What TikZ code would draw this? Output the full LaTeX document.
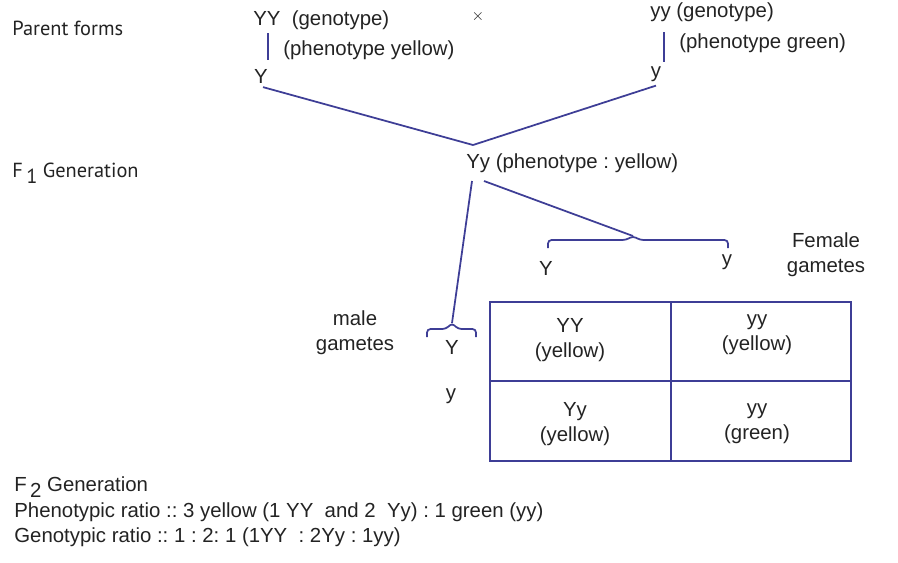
\documentclass[tikz,border=0pt]{standalone}
\usepackage{fontspec}
\setmainfont{Liberation Sans}
\newfontfamily\labelfont{PT Sans}
\usepackage{xcolor}
\usepackage{tikz}
\usetikzlibrary{positioning}
\frenchspacing

\definecolor{lineblue}{RGB}{62,62,150}
\definecolor{inkgray}{RGB}{35,35,35}
\newcommand{\lowidx}[1]{\,\raisebox{-0.6ex}{#1}}

\begin{document}
\begin{tikzpicture}[
      x=0.02cm, y=-0.02cm,
      font=\fontsize{11.6}{13.4}\selectfont,
      link/.style={lineblue, line width=1pt},
      brace/.style={lineblue, line width=1pt, rounded corners=2pt},
      txt/.style={inkgray, inner sep=0pt, anchor=west},
      side/.style={txt, font=\fontsize{11.6}{14}\selectfont\labelfont},
      gam/.style={inkgray, inner sep=1pt},
      cell/.style={inkgray, inner sep=0pt, align=center}
    ]
    \useasboundingbox (0,0) rectangle (898,562);

    % parents
    \node[side] (parent) at (12,28) {Parent forms};
    \node[txt] (gYY) at (253,20) {YY\ \ (genotype)};
    \node[txt] (pYY) at (283,50) {(phenotype yellow)};
    \node[gam] (pY) at (261,76) {Y};
    \node[inkgray, inner sep=0pt] (cross) at (478,17) {\small$\times$};
    \node[txt] (gyy) at (650,12) {yy (genotype)};
    \node[txt] (pyy) at (679,43) {(phenotype green)};
    \node[gam] (py) at (656,74) {y};

    \draw[link] (268,33) -- (268,60);
    \draw[link] (664,32) -- (664,62);

    % F1
    \node[side] (fone) at (12,173) {F\lowidx{1} Generation};
    \node[txt] (hyb) at (466,163) {Yy (phenotype : yellow)};
    \coordinate (meet) at (473,145);
    \draw[link] (pY.south) ++(2,2) -- (meet);
    \draw[link] (py.south) ++(0,2) -- (meet);

    % gametes
    \coordinate (ftip) at (633,236);
    \coordinate (mtip) at (452,323);
    \draw[link] (484,181) -- (ftip);
    \draw[link] (472,181) -- (mtip);
    \draw[brace] (548,248) -- (548,240) -- (626,240) -- (ftip) -- (640,240)
      -- (728,240) -- (728,248);
    \draw[brace] (427,337) -- (427,329) -- (446,329) -- (mtip) -- (458,329)
      -- (476,329) -- (476,337);

    \node[gam] (fY) at (546,268) {Y};
    \node[gam] (fy) at (727,262) {y};
    \node[cell] (female) at (826,255) {Female\\[1pt]gametes};
    \node[cell] (male) at (355,333) {male\\[1pt]gametes};
    \node[gam] (mY) at (452,347) {Y};
    \node[gam] (my) at (451,396) {y};

    % Punnett square
    \draw[link] (490,302) rectangle (851,461);
    \draw[link] (671,302) -- (671,461);
    \draw[link] (490,381) -- (851,381);
    \node[cell] (c11) at (570,340) {YY\\[1pt](yellow)};
    \node[cell] (c12) at (757,335) {yy\\[1pt](yellow)};
    \node[cell] (c21) at (575,424) {Yy\\[1pt](yellow)};
    \node[cell] (c22) at (757,424) {yy\\[1pt](green)};

    % F2
    \node[txt] (ftwo) at (14,487) {F\lowidx{2} Generation};
    \node[txt] (pheno) at (14,512)
      {Phenotypic ratio :: 3 yellow (1 YY\ \ and 2\ \ Yy) : 1 green (yy)};
    \node[txt] (geno) at (14,537) {Genotypic ratio :: 1 : 2: 1 (1YY\ \ : 2Yy : 1yy)};
  \end{tikzpicture}
\end{document}
